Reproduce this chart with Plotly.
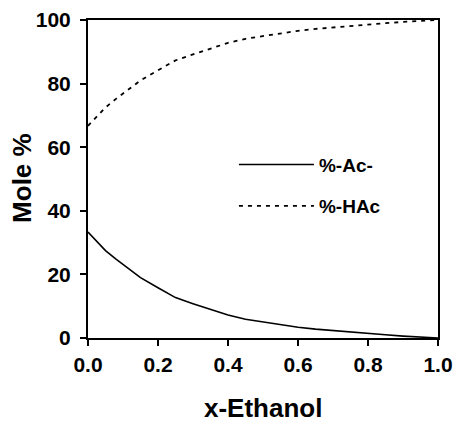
import plotly.graph_objects as go

x_ethanol = [0.00, 0.02, 0.05, 0.08, 0.10, 0.15, 0.20, 0.25, 0.30, 0.35, 0.40,
             0.45, 0.50, 0.55, 0.60, 0.65, 0.70, 0.75, 0.80, 0.85, 0.90, 0.95, 1.00]
pct_ac = [33.3, 31.0, 27.5, 24.8, 23.2, 19.0, 15.8, 12.7, 10.8, 8.9, 7.2,
          5.9, 5.0, 4.2, 3.4, 2.8, 2.3, 1.8, 1.4, 1.0, 0.6, 0.3, 0.0]
pct_hac = [66.7, 69.0, 72.5, 75.2, 76.8, 81.0, 84.2, 87.3, 89.2, 91.1, 92.8,
           94.1, 95.0, 95.8, 96.6, 97.2, 97.7, 98.2, 98.6, 99.0, 99.4, 99.7, 100.0]
x_title = "x-Ethanol"
y_title = "Mole %"

FONT = "Liberation Sans, Arial, sans-serif"
title_font = dict(family=FONT, size=26, color="black", weight="bold")

fig = go.Figure()
fig.add_trace(go.Scatter(x=x_ethanol, y=pct_ac, mode="lines", name="%-Ac-",
                         line=dict(color="black", width=1.6), legend="legend",
                         showlegend=True))
fig.add_trace(go.Scatter(x=x_ethanol, y=pct_hac, mode="lines", name="%-HAc",
                         line=dict(color="black", width=1.8, dash="4px,5px"), legend="legend2",
                         showlegend=True))

leg_common = dict(font=dict(family=FONT, size=19, color="black", weight="bold"),
                  bgcolor="rgba(0,0,0,0)", itemwidth=75, xanchor="left", yanchor="middle",
                  borderwidth=0, visible=True)
fig.update_layout(
    width=453, height=424,
    margin=dict(l=88, r=15, t=20, b=86),
    plot_bgcolor="white", paper_bgcolor="white",
    font=dict(family=FONT, color="black"),
    showlegend=True,
    legend=dict(x=0.417, y=0.545, **leg_common),
    legend2=dict(x=0.417, y=0.415, **leg_common),
    xaxis=dict(range=[0, 1], tickvals=[0, 0.2, 0.4, 0.6, 0.8, 1.0],
               ticktext=["0.0", "0.2", "0.4", "0.6", "0.8", "1.0"],
               ticks="outside", ticklen=6, tickwidth=1.5, tickcolor="black",
               showline=True, linecolor="black", linewidth=2, mirror=True,
               showgrid=False, zeroline=False, ticklabelstandoff=1, automargin=False,
               tickfont=dict(family=FONT, size=21, color="black", weight="bold")),
    yaxis=dict(range=[0, 100], tickvals=[0, 20, 40, 60, 80, 100],
               ticks="outside", ticklen=6, tickwidth=1.5, tickcolor="black",
               showline=True, linecolor="black", linewidth=2, mirror=True,
               showgrid=False, zeroline=False, ticklabelstandoff=5, automargin=False,
               tickfont=dict(family=FONT, size=21, color="black", weight="bold")),
    annotations=[
        dict(text=x_title, xref="paper", yref="paper", x=0.5, y=-0.22,
             xanchor="center", yanchor="middle", showarrow=False, font=title_font),
        dict(text=y_title, xref="paper", yref="paper", x=-0.189, y=0.503, textangle=-90,
             xanchor="center", yanchor="middle", showarrow=False, font=title_font),
    ],
)
fig.write_html("out.html")
